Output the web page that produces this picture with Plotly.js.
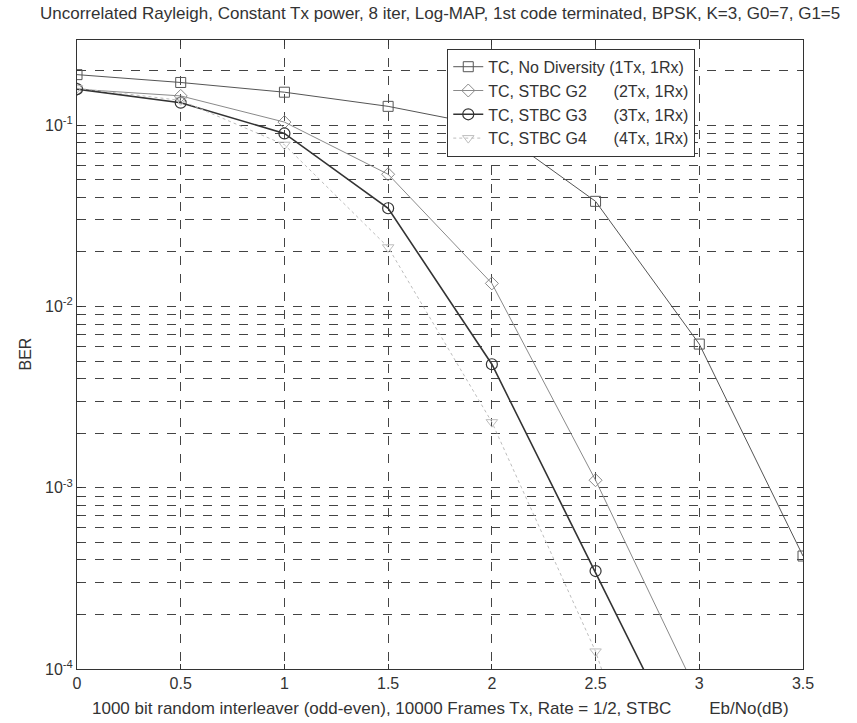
<!DOCTYPE html>
<html>
<head>
<meta charset="utf-8">
<script src="https://cdn.plot.ly/plotly-3.0.1.min.js"></script>
<style>html,body{margin:0;padding:0;background:#fff;}#chart{width:857px;height:723px;}</style>
</head>
<body>
<div id="chart"></div>
<script>
// ---- data ----
const ebno = [0, 0.5, 1, 1.5, 2, 2.5, 3, 3.5];
const berNoDiv = [0.19, 0.172, 0.152, 0.127, 0.098, 0.038, 0.0062, 0.00042];
const ebnoStbc = [0, 0.5, 1, 1.5, 2, 2.5, 3];
const berG2 = [0.158, 0.145, 0.104, 0.0536, 0.0134, 0.0011, 0.00007];
const berG3 = [0.158, 0.133, 0.090, 0.0348, 0.0048, 0.000347, 0.000024];
const berG4 = [0.160, 0.137, 0.078, 0.0212, 0.0023, 0.000125, 0.0000026];
const seriesNames = [
  'TC, No Diversity (1Tx, 1Rx)',
  'TC, STBC G2\u00a0\u00a0\u00a0\u00a0\u00a0 (2Tx, 1Rx)',
  'TC, STBC G3\u00a0\u00a0\u00a0\u00a0\u00a0 (3Tx, 1Rx)',
  'TC, STBC G4\u00a0\u00a0\u00a0\u00a0\u00a0 (4Tx, 1Rx)'
];
const xTickVals = [0, 0.5, 1, 1.5, 2, 2.5, 3, 3.5];
const xTickText = ['0', '0.5', '1', '1.5', '2', '2.5', '3', '3.5'];
const decades = [-4, -3, -2, -1];
const titleText = 'Uncorrelated Rayleigh, Constant Tx power, 8 iter, Log-MAP, 1st code terminated, BPSK, K=3, G0=7, G1=5';
const xLabelText = '1000 bit random interleaver (odd-even), 10000 Frames Tx, Rate = 1/2, STBC' + '\u00a0'.repeat(8) + 'Eb/No(dB)';
const yLabelText = 'BER';

// major ticks on decades (labelled), minor grid at 2..9 x decade
const yTickVals = decades.map(d => Math.pow(10, d));
const yTickText = decades.map(d => '10<sup>' + d + '</sup>');
const yMinorVals = [];
decades.forEach(d => { for (let m = 2; m <= 9; m++) yMinorVals.push(m * Math.pow(10, d)); });

const font = 'Liberation Sans, Arial, sans-serif';
const txt = '#333';
const traces = [
  {x: ebno, y: berNoDiv, name: seriesNames[0], mode: 'lines+markers',
   line: {color: '#555', width: 1}, marker: {symbol: 'square-open', size: 10, color: '#555', line: {width: 1}}},
  {x: ebnoStbc, y: berG2, name: seriesNames[1], mode: 'lines+markers',
   line: {color: '#8a8a8a', width: 1}, marker: {symbol: 'diamond-open', size: 10, color: '#8a8a8a', line: {width: 1}}},
  {x: ebnoStbc, y: berG3, name: seriesNames[2], mode: 'lines+markers',
   line: {color: '#333', width: 1.6}, marker: {symbol: 'circle-open', size: 11, color: '#333', line: {width: 1.2}}},
  {x: ebnoStbc, y: berG4, name: seriesNames[3], mode: 'lines+markers',
   line: {color: '#bdbdbd', width: 1, dash: 'dot'}, marker: {symbol: 'triangle-down-open', size: 10, color: '#bdbdbd', line: {width: 1}}}
];

const layout = {
  width: 857, height: 723,
  margin: {l: 77, r: 54, t: 40, b: 54},
  paper_bgcolor: '#fff', plot_bgcolor: '#fff',
  font: {family: font, size: 16, color: txt},
  showlegend: true,
  legend: {x: 0.51, y: 0.986, xanchor: 'left', yanchor: 'top', bgcolor: '#fff',
           bordercolor: '#333', borderwidth: 1, font: {family: font, size: 16, color: txt},
           tracegroupgap: 0},
  xaxis: {range: [0, 3.5], tickmode: 'array', tickvals: xTickVals, ticktext: xTickText,
          showgrid: true, gridcolor: '#444', griddash: 'dash', gridwidth: 1,
          showline: true, linecolor: '#333', linewidth: 1, mirror: 'ticks',
          ticks: 'inside', ticklen: 5, tickcolor: '#333', zeroline: false,
          tickfont: {family: font, size: 16, color: txt}},
  yaxis: {type: 'log', range: [-4, Math.log10(0.295)], tickmode: 'array', tickvals: yTickVals, ticktext: yTickText,
          showgrid: true, gridcolor: '#444', griddash: 'dash', gridwidth: 1,
          showline: true, linecolor: '#333', linewidth: 1, mirror: 'ticks',
          ticks: 'inside', ticklen: 5, tickcolor: '#333', zeroline: false,
          tickfont: {family: font, size: 16, color: txt},
          minor: {tickmode: 'array', tickvals: yMinorVals, showgrid: true, gridcolor: '#444', griddash: 'dash',
                  gridwidth: 1, ticks: 'inside', ticklen: 3, tickcolor: '#333'}},
  annotations: [
    {text: titleText, xref: 'paper', yref: 'paper', x: 0.5, y: 1 + 26 / 629, xanchor: 'center', yanchor: 'middle',
     showarrow: false, font: {family: font, size: 17, color: txt}},
    {text: xLabelText, xref: 'paper', yref: 'paper', x: 0.5, y: -39 / 629, xanchor: 'center', yanchor: 'middle',
     showarrow: false, font: {family: font, size: 17, color: txt}},
    {text: yLabelText, xref: 'paper', yref: 'paper', x: -52 / 726, y: 0.5, xanchor: 'center', yanchor: 'middle',
     textangle: -90, showarrow: false, font: {family: font, size: 16, color: txt}}
  ]
};

Plotly.newPlot('chart', traces, layout, {displayModeBar: false, staticPlot: true});
</script>
</body>
</html>
